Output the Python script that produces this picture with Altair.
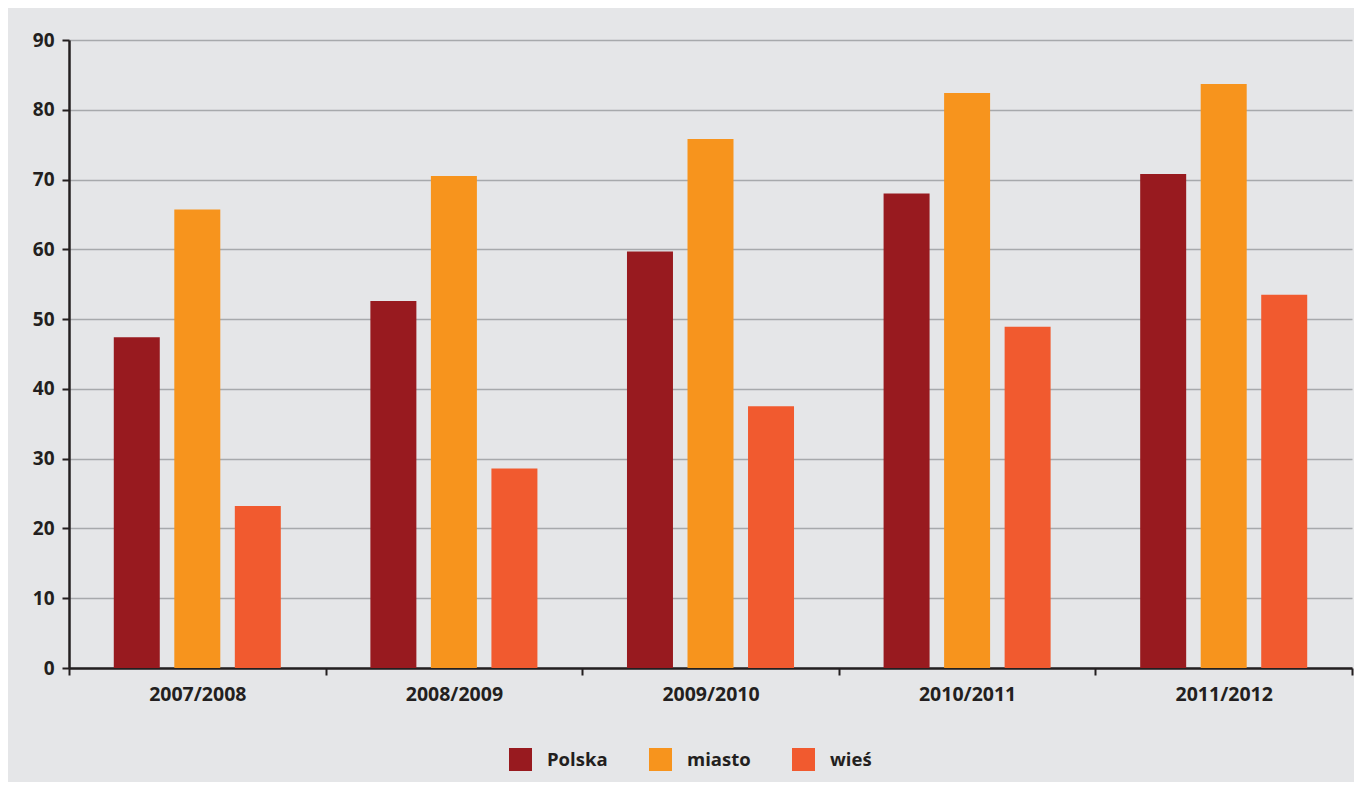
import altair as alt
import pandas as pd

years = ["2007/2008", "2008/2009", "2009/2010", "2010/2011", "2011/2012"]
series = ["Polska", "miasto", "wieś"]
polska = [47.4, 52.6, 59.7, 68.0, 70.8]
miasto = [65.7, 70.5, 75.8, 82.4, 83.7]
wies = [23.2, 28.6, 37.5, 48.9, 53.5]
colors = ["#981a1f", "#f7941d", "#f15a2f"]
y_ticks = [0, 10, 20, 30, 40, 50, 60, 70, 80, 90]

rows = []
for name, vals in zip(series, [polska, miasto, wies]):
    for yr, v in zip(years, vals):
        rows.append({"rok": yr, "seria": name, "wartosc": v})
df = pd.DataFrame(rows)

FONT = "Open Sans"
TXT = "#231f20"

chart = alt.Chart(df).mark_bar().encode(
    x=alt.X("rok:N", sort=years, title=None,
            scale=alt.Scale(paddingInner=0, paddingOuter=0),
            axis=alt.Axis(tickBand="extent", labelAngle=0, labelFont=FONT,
                          labelFontWeight="bold", labelFontSize=19.5, labelColor=TXT,
                          labelPadding=10, tickSize=7, tickWidth=2, tickColor=TXT,
                          domainColor=TXT, domainWidth=2.5, grid=False)),
    xOffset=alt.XOffset("seria:N", sort=series,
                        scale=alt.Scale(paddingInner=0.24, paddingOuter=0.74)),
    y=alt.Y("wartosc:Q", title=None,
            scale=alt.Scale(domain=[0, 90], nice=False),
            axis=alt.Axis(values=y_ticks, labelFont=FONT, labelFontWeight="bold",
                          labelFontSize=19, labelColor=TXT, labelPadding=8,
                          tickSize=7, tickWidth=2, tickColor=TXT,
                          domainColor=TXT, domainWidth=2.5,
                          grid=True, gridColor="#a7a9ac", gridWidth=1.5)),
    color=alt.Color("seria:N", sort=series,
                    scale=alt.Scale(domain=series, range=colors),
                    legend=alt.Legend(title=None, orient="none", legendX=440, legendY=708,
                                      direction="horizontal", symbolType="square",
                                      symbolSize=529, symbolStrokeWidth=0,
                                      labelFont=FONT, labelFontWeight="bold",
                                      labelFontSize=18.5, labelColor=TXT,
                                      labelOffset=15, columnPadding=41, padding=0)),
).properties(
    width=1283, height=628,
    autosize=alt.AutoSizeParams(type="none"),
    padding={"left": 61, "top": 32, "right": 2, "bottom": 114},
    background="#e5e6e8",
).configure_view(stroke=None, fill="#e5e6e8")

chart.save("out.html", embed_options={"renderer": "svg", "actions": False})
